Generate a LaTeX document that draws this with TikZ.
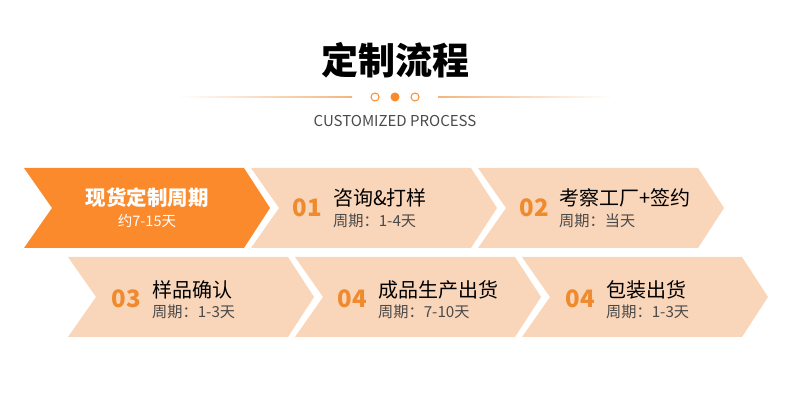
\documentclass[tikz,border=0pt]{standalone}
\usepackage{fontspec}
\setmainfont{Noto Sans CJK SC}
\usepackage{tikz}
\usetikzlibrary{positioning, calc}

\definecolor{mainorange}{HTML}{FA8A2C}
\definecolor{peach}{HTML}{F9D5B9}
\definecolor{numorange}{HTML}{F08A2E}
\definecolor{lineorange}{HTML}{F3B57F}
\definecolor{subgray}{HTML}{4A4A4A}

\begin{document}
\begin{tikzpicture}[
    x=1pt, y=-1pt,
    chev/.style={fill=peach, draw=none},
    chevhot/.style={fill=mainorange, draw=none},
    num/.style={inner sep=0pt, text=numorange, font=\fontsize{24}{27}\selectfont\bfseries},
    title/.style={inner sep=0pt, anchor=west, text=black, font=\fontsize{20}{22}\selectfont},
    sub/.style={inner sep=0pt, anchor=west, text=subgray, font=\fontsize{15.2}{17}\selectfont},
    dot/.style={circle, inner sep=0pt, minimum size=8pt, draw=mainorange, line width=1pt}
]
\useasboundingbox (0,0) rectangle (790,411);

% heading
\node (Head) at (395,60) [inner sep=0pt, font=\fontsize{37}{40}\selectfont\bfseries] {定制流程};
\node (Dot1) at (375,97) [dot, fill=white] {};
\node (Dot2) at (395,97) [dot, fill=mainorange] {};
\node (Dot3) at (415,97) [dot, fill=white] {};
\fill[left color=white, right color=lineorange] (177,96.5) rectangle (352,97.5);
\fill[left color=lineorange, right color=white] (438,96.5) rectangle (613,97.5);
\node (Eng) at (395,121) [inner sep=0pt, text=subgray, font=\fontsize{15}{17}\selectfont] {CUSTOMIZED PROCESS};

% first row
\fill[chevhot] (24,168) -- (244,168) -- (270,208) -- (244,248) -- (24,248) -- (52,208) -- cycle;
\fill[chev] (251,168) -- (471,168) -- (497,208) -- (471,248) -- (251,248) -- (279,208) -- cycle;
\fill[chev] (478,168) -- (698,168) -- (724,208) -- (698,248) -- (478,248) -- (506,208) -- cycle;

\node (T0) at (147,198) [inner sep=0pt, text=white, font=\fontsize{20.5}{22}\selectfont\bfseries] {现货定制周期};
\node (S0) at (147,220.5) [inner sep=0pt, text=white, font=\fontsize{14.5}{16}\selectfont] {约7-15天};

\node (N1) at (307,208) [num] {01};
\node (T1) at (333,197.5) [title] {咨询\&打样};
\node (S1) at (333,220.5) [sub] {周期：1-4天};

\node (N2) at (534,208) [num] {02};
\node (T2) at (559,197.5) [title] {考察工厂+签约};
\node (S2) at (559,220.5) [sub] {周期：当天};

% second row
\fill[chev] (68,257) -- (288,257) -- (314,297) -- (288,337) -- (68,337) -- (96,297) -- cycle;
\fill[chev] (295,257) -- (515,257) -- (541,297) -- (515,337) -- (295,337) -- (323,297) -- cycle;
\fill[chev] (522,257) -- (742,257) -- (768,297) -- (742,337) -- (522,337) -- (550,297) -- cycle;

\node (N3) at (126,299) [num] {03};
\node (T3) at (152,290) [title] {样品确认};
\node (S3) at (152,311.5) [sub] {周期：1-3天};

\node (N4) at (352,299) [num] {04};
\node (T4) at (378,290) [title] {成品生产出货};
\node (S4) at (378,311.5) [sub] {周期：7-10天};

\node (N5) at (580,299) [num] {04};
\node (T5) at (606,290) [title] {包装出货};
\node (S5) at (606,311.5) [sub] {周期：1-3天};

\end{tikzpicture}
\end{document}
